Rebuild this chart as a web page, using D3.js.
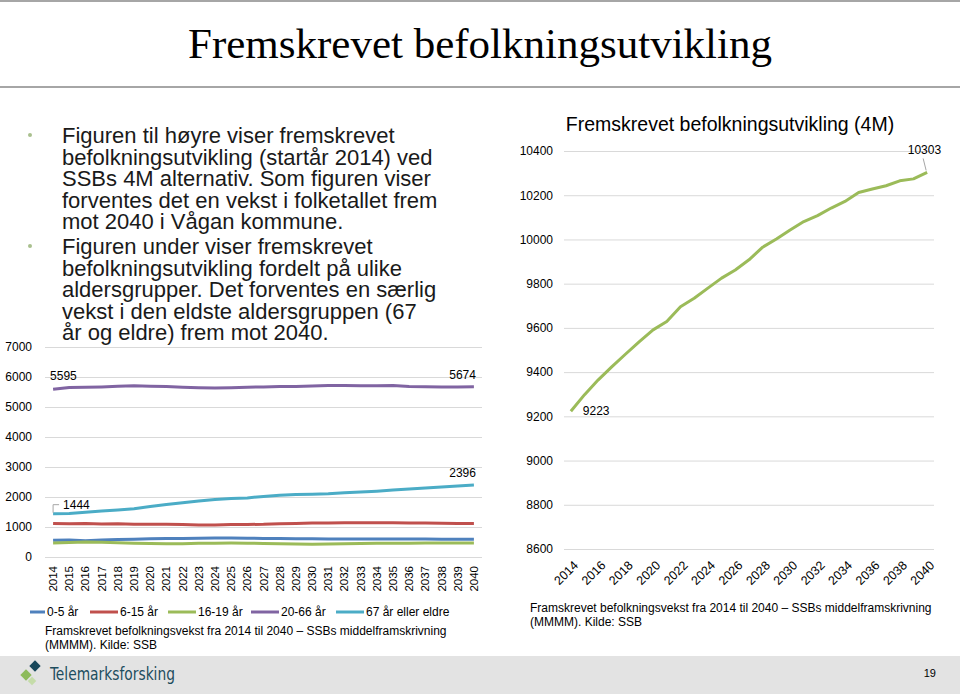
<!DOCTYPE html>
<html>
<head>
<meta charset="utf-8">
<script src="https://cdn.jsdelivr.net/npm/d3@7/dist/d3.min.js"></script>
<style>
  body { margin: 0; background: #fff; }
  svg { display: block; font-family: "Liberation Sans", Arial, sans-serif; }
  .grid line { stroke: #d9d9d9; stroke-width: 1; }
  .grid .domain { display: none; }
</style>
</head>
<body>
<div id="slide"></div>
<script>
// years on both charts
const years = d3.range(2014, 2041);

// age groups (left chart)
const ageGroups = ["0-5 år", "6-15 år", "16-19 år", "20-66 år", "67 år eller eldre"];
const ageColors = ["#4f81bd", "#c0504d", "#9bbb59", "#8064a2", "#4bacc6"];
const age0to5 = [560, 570, 545, 565, 580, 595, 605, 615, 620, 625, 630, 630, 625, 620, 615, 610, 605, 600, 600, 600, 600, 600, 600, 600, 595, 595, 590];
const age6to15 = [1120, 1110, 1115, 1100, 1110, 1090, 1090, 1090, 1085, 1065, 1070, 1080, 1085, 1090, 1110, 1120, 1130, 1135, 1140, 1140, 1140, 1140, 1135, 1130, 1125, 1120, 1120];
const age16to19 = [470, 480, 500, 490, 475, 460, 450, 440, 445, 455, 460, 465, 460, 450, 440, 430, 425, 430, 440, 450, 455, 460, 462, 465, 466, 466, 466];
const age20to66 = [5595, 5650, 5660, 5670, 5690, 5705, 5695, 5680, 5660, 5645, 5630, 5645, 5660, 5670, 5680, 5685, 5700, 5715, 5715, 5705, 5710, 5715, 5685, 5675, 5670, 5668, 5674];
const age67plus = [1444, 1450, 1490, 1530, 1570, 1610, 1680, 1750, 1810, 1870, 1920, 1950, 1970, 2020, 2060, 2080, 2095, 2110, 2140, 2170, 2195, 2230, 2265, 2300, 2335, 2365, 2396];
const ageSeries = [age0to5, age6to15, age16to19, age20to66, age67plus];
const leftTicks = [0, 1000, 2000, 3000, 4000, 5000, 6000, 7000];

// total population (right chart)
const total = [9223, 9298, 9365, 9425, 9482, 9538, 9591, 9629, 9696, 9734, 9780, 9825, 9862, 9908, 9965, 10002, 10043, 10081, 10108, 10142, 10172, 10212, 10228, 10243, 10265, 10274, 10303];
const rightTicks = [8600, 8800, 9000, 9200, 9400, 9600, 9800, 10000, 10200, 10400];
const rightYearTicks = d3.range(2014, 2041, 2);

const bullets = [
  ["Figuren til høyre viser fremskrevet", "befolkningsutvikling (startår 2014) ved", "SSBs 4M alternativ. Som figuren viser", "forventes det en vekst i folketallet frem", "mot 2040 i Vågan kommune."],
  ["Figuren under viser fremskrevet", "befolkningsutvikling fordelt på ulike", "aldersgrupper. Det forventes en særlig", "vekst i den eldste aldersgruppen (67", "år og eldre) frem mot 2040."]
];
const sourceLines = ["Framskrevet befolkningsvekst fra 2014 til 2040 – SSBs middelframskrivning", "(MMMM). Kilde: SSB"];

const W = 960, H = 694;
const fmt = d3.format("d");
const svg = d3.select("#slide").append("svg").attr("width", W).attr("height", H);

// header
svg.append("rect").attr("x", 0).attr("y", 0).attr("width", W).attr("height", 2).attr("fill", "#a6a6a6");
svg.append("rect").attr("x", 0).attr("y", 86).attr("width", W).attr("height", 2).attr("fill", "#a6a6a6");
svg.append("text").attr("x", 480).attr("y", 58).attr("text-anchor", "middle")
   .style("font-family", "'Liberation Serif', serif").style("font-size", "43px").attr("fill", "#000")
   .text("Fremskrevet befolkningsutvikling");

// bullets - one text per bullet, lines as tspans
bullets.forEach((lines, b) => {
  const y0 = b === 0 ? 143 : 254;
  svg.append("circle").attr("cx", 30).attr("cy", y0 - 8).attr("r", 2).attr("fill", "#a9c08e");
  const t = svg.append("text").attr("x", 62).attr("y", y0)
     .style("font-size", "22px").attr("fill", "#1a1a1a");
  lines.forEach((line, i) => {
    t.append("tspan").attr("x", 62).attr("dy", i === 0 ? 0 : 21.6).text(line);
  });
});

// ---------- left chart ----------
const xL = d3.scaleBand().domain(years).range([45, 482]);
const yL = d3.scaleLinear().domain([0, 7000]).range([557, 347]);

svg.append("g").attr("class", "grid").attr("transform", "translate(45,0)")
   .call(d3.axisLeft(yL).tickValues(leftTicks).tickSize(-437).tickFormat(""));

svg.append("g").attr("transform", "translate(32,0)")
   .call(d3.axisLeft(yL).tickValues(leftTicks).tickSize(0).tickPadding(0).tickFormat(fmt))
   .call(g => g.select(".domain").remove())
   .selectAll("text").style("font-size", "12px").attr("fill", "#000")
   .style("font-family", "'Liberation Sans', Arial, sans-serif");

svg.append("g").attr("transform", "translate(0,557)")
   .call(d3.axisBottom(xL).tickSize(0).tickFormat(fmt))
   .call(g => g.select(".domain").remove())
   .selectAll("text")
   .attr("transform", "rotate(-90)")
   .attr("x", -9).attr("y", 0).attr("dy", "0.35em")
   .attr("text-anchor", "end")
   .style("font-size", "11.5px").attr("fill", "#000")
   .style("font-family", "'Liberation Sans', Arial, sans-serif");

const lineL = d3.line().x((d, i) => xL(years[i]) + xL.bandwidth() / 2).y(d => yL(d));
ageSeries.forEach((s, k) => {
  svg.append("path").datum(s).attr("d", lineL).attr("fill", "none")
     .attr("stroke", ageColors[k]).attr("stroke-width", 3).attr("stroke-linejoin", "round");
});

const cx = i => xL(years[i]) + xL.bandwidth() / 2;
const lbl = (x, y, t, anchor) => svg.append("text").attr("x", x).attr("y", y).attr("text-anchor", anchor || "start")
   .style("font-size", "12px").attr("fill", "#000").text(t);
lbl(cx(0) - 3, yL(age20to66[0]) - 9, age20to66[0]);
lbl(cx(26) + 2, yL(age20to66[26]) - 8, age20to66[26], "end");
lbl(cx(26) + 2, yL(age67plus[26]) - 8, age67plus[26], "end");
lbl(cx(0) + 10, yL(age67plus[0]) - 5, age67plus[0]);
svg.append("path").attr("fill", "none").attr("stroke", "#a6a6a6").attr("stroke-width", 1)
   .attr("d", `M${cx(0)},${yL(age67plus[0]) - 1}V${yL(age67plus[0]) - 9}H${cx(0) + 6}`);

// legend
const legX = [30, 90, 168, 251, 336];
const legLen = [15, 28, 28, 28, 28];
ageGroups.forEach((name, k) => {
  svg.append("line").attr("x1", legX[k]).attr("x2", legX[k] + legLen[k]).attr("y1", 612).attr("y2", 612)
     .attr("stroke", ageColors[k]).attr("stroke-width", 3);
  svg.append("text").attr("x", legX[k] + legLen[k] + 2).attr("y", 616).style("font-size", "12px").attr("fill", "#000").text(name);
});
sourceLines.forEach((t, i) => {
  svg.append("text").attr("x", 45).attr("y", 635 + i * 14).style("font-size", "12px").attr("fill", "#000").text(t);
});

// ---------- right chart ----------
const xR = d3.scaleBand().domain(years).range([564, 934]);
const yR = d3.scaleLinear().domain([8600, 10400]).range([549, 151]);

svg.append("text").attr("x", 730).attr("y", 131).attr("text-anchor", "middle")
   .style("font-size", "19.5px").attr("fill", "#000").text("Fremskrevet befolkningsutvikling (4M)");

svg.append("g").attr("class", "grid").attr("transform", "translate(564,0)")
   .call(d3.axisLeft(yR).tickValues(rightTicks).tickSize(-370).tickFormat(""));

svg.append("g").attr("transform", "translate(553,0)")
   .call(d3.axisLeft(yR).tickValues(rightTicks).tickSize(0).tickPadding(0).tickFormat(fmt))
   .call(g => g.select(".domain").remove())
   .selectAll("text").style("font-size", "12px").attr("fill", "#000")
   .style("font-family", "'Liberation Sans', Arial, sans-serif");

svg.append("g").attr("transform", "translate(0,549)")
   .call(d3.axisBottom(xR).tickValues(rightYearTicks).tickSize(0).tickFormat(fmt))
   .call(g => g.select(".domain").remove())
   .selectAll("text")
   .attr("x", 0).attr("y", 0).attr("dy", "0.35em")
   .attr("transform", "translate(5,14) rotate(-45)")
   .attr("text-anchor", "end")
   .style("font-size", "12.5px").attr("fill", "#000")
   .style("font-family", "'Liberation Sans', Arial, sans-serif");

const lineR = d3.line().x((d, i) => xR(years[i]) + xR.bandwidth() / 2).y(d => yR(d));
svg.append("path").datum(total).attr("d", lineR).attr("fill", "none")
   .attr("stroke", "#9bbb59").attr("stroke-width", 3).attr("stroke-linejoin", "round");

const rx = i => xR(years[i]) + xR.bandwidth() / 2;
svg.append("text").attr("x", rx(0) + 12).attr("y", yR(total[0]) + 4).style("font-size", "12px").attr("fill", "#000").text(total[0]);
svg.append("text").attr("x", rx(26) + 14).attr("y", yR(total[26]) - 18).attr("text-anchor", "end")
   .style("font-size", "12px").attr("fill", "#000").text(total[26]);
svg.append("line").attr("x1", rx(26) - 4).attr("y1", yR(total[26]) - 14).attr("x2", rx(26) - 1).attr("y2", yR(total[26]) - 2)
   .attr("stroke", "#a6a6a6").attr("stroke-width", 1);

sourceLines.forEach((t, i) => {
  svg.append("text").attr("x", 530).attr("y", 612 + i * 14).style("font-size", "12px").attr("fill", "#000").text(t);
});

// ---------- footer ----------
svg.append("rect").attr("x", 0).attr("y", 656).attr("width", W).attr("height", H - 656).attr("fill", "#e3e3e3");
const logo = svg.append("g").attr("transform", "translate(30,672)");
logo.append("rect").attr("x", -4).attr("y", -4).attr("width", 8).attr("height", 8).attr("fill", "#17475a").attr("transform", "translate(5,-6) rotate(45)");
logo.append("rect").attr("x", -4).attr("y", -4).attr("width", 8).attr("height", 8).attr("fill", "#8dbb5a").attr("transform", "translate(-4,3) rotate(45)");
logo.append("rect").attr("x", -3).attr("y", -3).attr("width", 6).attr("height", 6).attr("fill", "#c5dca9").attr("transform", "translate(2,9) rotate(45)");
svg.append("text").attr("x", 50).attr("y", 680)
   .style("font-family", "'DejaVu Sans Condensed', 'Liberation Sans', sans-serif")
   .style("font-size", "18px").attr("fill", "#1d4d5e")
   .attr("textLength", 125).attr("lengthAdjust", "spacingAndGlyphs").text("Telemarksforsking");
svg.append("text").attr("x", 936).attr("y", 677).attr("text-anchor", "end")
   .style("font-size", "11px").attr("fill", "#000").text("19");
</script>
</body>
</html>
